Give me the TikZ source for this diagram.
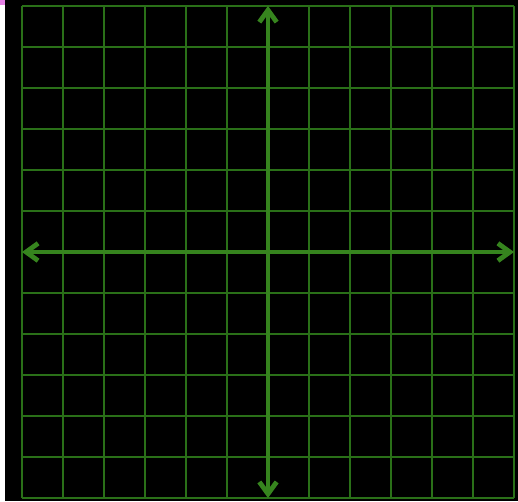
\documentclass[tikz,border=0pt]{standalone}
\usetikzlibrary{
  arrows.meta % For arrow tips
}
\definecolor{gridgreen}{RGB}{42,112,24}
\definecolor{axisgreen}{RGB}{54,132,30}
\definecolor{markpink}{RGB}{228,128,228}

\begin{document}
\begin{tikzpicture}[
      x=0.75pt, y=-0.75pt, % one unit is one pixel, origin top left
      gridline/.style={gridgreen, line width=1.5pt}, % Style for grid lines
      axisline/.style={axisgreen, line width=3.6pt,
        {Straight Barb[length=9pt, width=13pt]}-{Straight Barb[length=9pt, width=13pt]}}, % Style for axes
    ]

    % Rahmen
    \useasboundingbox (0, 0) rectangle (518, 501);
    \fill[white] (0, 0) rectangle (5, 501);
    \fill[markpink] (0, 0) rectangle (5, 5);
    \fill[black] (5, 0) rectangle (518, 501);

    % Koordinaten
    \def\cell{41}
    \coordinate (O) at (22, 6);
    \coordinate (L) at (22, 252);
    \coordinate (R) at (514, 252);
    \coordinate (T) at (268, 6);
    \coordinate (B) at (268, 498);

    % Gitter
    \foreach \i in {0,...,12}{
      \draw[gridline] (22 + \i * \cell, 6) -- (22 + \i * \cell, 498);
      \draw[gridline] (22, 6 + \i * \cell) -- (514, 6 + \i * \cell);
    }

    % Achsen
    \draw[axisline] (L) -- (R);
    \draw[axisline] (B) -- (T);

  \end{tikzpicture}
\end{document}
